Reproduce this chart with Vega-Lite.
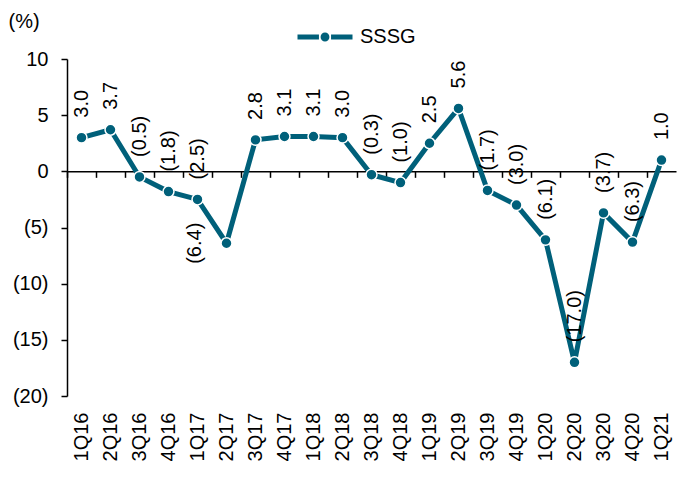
{
  "$schema": "https://vega.github.io/schema/vega-lite/v6.json",
  "autosize": "none",
  "width": 609,
  "height": 337,
  "padding": {"left": 67, "top": 59, "right": 22, "bottom": 81},
  "background": "white",
  "config": {
    "view": {"stroke": null},
    "font": "Liberation Sans",
    "text": {"font": "Liberation Sans"},
    "axis": {"labelFont": "Liberation Sans", "titleFont": "Liberation Sans", "labelColor": "black", "titleColor": "black"},
    "legend": {"labelFont": "Liberation Sans"}
  },
  "data": {
    "values": [
      {"q": "1Q16", "v": 3.0, "label": "3.0", "s": "SSSG"},
      {"q": "2Q16", "v": 3.7, "label": "3.7", "s": "SSSG"},
      {"q": "3Q16", "v": -0.5, "label": "(0.5)", "s": "SSSG"},
      {"q": "4Q16", "v": -1.8, "label": "(1.8)", "s": "SSSG"},
      {"q": "1Q17", "v": -2.5, "label": "(2.5)", "s": "SSSG"},
      {"q": "2Q17", "v": -6.4, "label": "(6.4)", "s": "SSSG"},
      {"q": "3Q17", "v": 2.8, "label": "2.8", "s": "SSSG"},
      {"q": "4Q17", "v": 3.1, "label": "3.1", "s": "SSSG"},
      {"q": "1Q18", "v": 3.1, "label": "3.1", "s": "SSSG"},
      {"q": "2Q18", "v": 3.0, "label": "3.0", "s": "SSSG"},
      {"q": "3Q18", "v": -0.3, "label": "(0.3)", "s": "SSSG"},
      {"q": "4Q18", "v": -1.0, "label": "(1.0)", "s": "SSSG"},
      {"q": "1Q19", "v": 2.5, "label": "2.5", "s": "SSSG"},
      {"q": "2Q19", "v": 5.6, "label": "5.6", "s": "SSSG"},
      {"q": "3Q19", "v": -1.7, "label": "(1.7)", "s": "SSSG"},
      {"q": "4Q19", "v": -3.0, "label": "(3.0)", "s": "SSSG"},
      {"q": "1Q20", "v": -6.1, "label": "(6.1)", "s": "SSSG"},
      {"q": "2Q20", "v": -17.0, "label": "(17.0)", "s": "SSSG"},
      {"q": "3Q20", "v": -3.7, "label": "(3.7)", "s": "SSSG"},
      {"q": "4Q20", "v": -6.3, "label": "(6.3)", "s": "SSSG"},
      {"q": "1Q21", "v": 1.0, "label": "1.0", "s": "SSSG"}
    ]
  },
  "encoding": {
    "y": {
      "field": "v",
      "type": "quantitative",
      "scale": {"domain": [-20, 10], "nice": false, "zero": false},
      "axis": {
        "title": "(%)",
        "titleAngle": 0,
        "titleAlign": "left",
        "titleBaseline": "middle",
        "titleX": -59,
        "titleY": -38,
        "titleFontSize": 20,
        "titleFontWeight": "normal",
        "values": [-20, -15, -10, -5, 0, 5, 10],
        "labelExpr": "datum.value < 0 ? '(' + (-datum.value) + ')' : datum.label + '\u2008'",
        "labelFontSize": 20,
        "labelPadding": 13,
        "tickSize": 6,
        "tickColor": "black",
        "tickWidth": 1.5,
        "domainColor": "black",
        "domainWidth": 1.5,
        "grid": false
      }
    }
  },
  "resolve": {"axis": {"x": "independent"}},
  "layer": [
    {
      "mark": {"type": "line", "strokeWidth": 5},
      "encoding": {
        "x": {
          "field": "q", "type": "ordinal", "sort": null, "bandPosition": 0.5,
          "scale": {"type": "band", "paddingInner": 0, "paddingOuter": 0},
          "axis": {
            "title": null,
            "labelAngle": 270,
            "labelFontSize": 20,
            "labelPadding": 16,
            "ticks": false,
            "tickSize": 0,
            "domain": false,
            "grid": false
          }
        },
        "color": {
          "field": "s", "type": "nominal",
          "scale": {"range": ["#00607A"]},
          "legend": {
            "orient": "none",
            "legendX": 228,
            "legendY": -52,
            "title": null,
            "padding": 0,
            "symbolType": "M-1,0H-0.22M0.22,0H1M0.07,0A0.07,0.07,0,1,1,-0.07,0A0.07,0.07,0,1,1,0.07,0",
            "symbolSize": 3025,
            "symbolStrokeWidth": 5,
            "symbolStrokeColor": "#00607A",
            "symbolFillColor": "#00607A",
            "labelFontSize": 20,
            "labelColor": "black",
            "labelOffset": 5
          }
        }
      }
    },
    {
      "mark": {"type": "circle", "size": 120, "opacity": 1, "stroke": "white", "strokeWidth": 1.5},
      "encoding": {
        "x": {
          "field": "q", "type": "ordinal", "sort": null, "bandPosition": 0.5,
          "axis": {
            "orient": "top",
            "title": null,
            "labels": false,
            "offset": -112.33,
            "bandPosition": 0,
            "tickSize": -6,
            "tickColor": "black",
            "tickWidth": 1.5,
            "domainColor": "black",
            "domainWidth": 1.5,
            "grid": false
          }
        },
        "color": {"field": "s", "type": "nominal"}
      }
    },
    {
      "transform": [{"filter": "datum.q != '2Q17'"}],
      "mark": {"type": "text", "angle": 270, "align": "left", "baseline": "middle", "dx": 20, "fontSize": 20, "color": "black"},
      "encoding": {
        "x": {"field": "q", "type": "ordinal", "sort": null, "bandPosition": 0.5, "axis": null},
        "text": {"field": "label"}
      }
    },
    {
      "transform": [{"filter": "datum.q == '2Q17'"}],
      "mark": {"type": "text", "angle": 270, "align": "center", "baseline": "middle", "dy": -32, "fontSize": 20, "color": "black"},
      "encoding": {
        "x": {"field": "q", "type": "ordinal", "sort": null, "bandPosition": 0.5, "axis": null},
        "text": {"field": "label"}
      }
    }
  ]
}
